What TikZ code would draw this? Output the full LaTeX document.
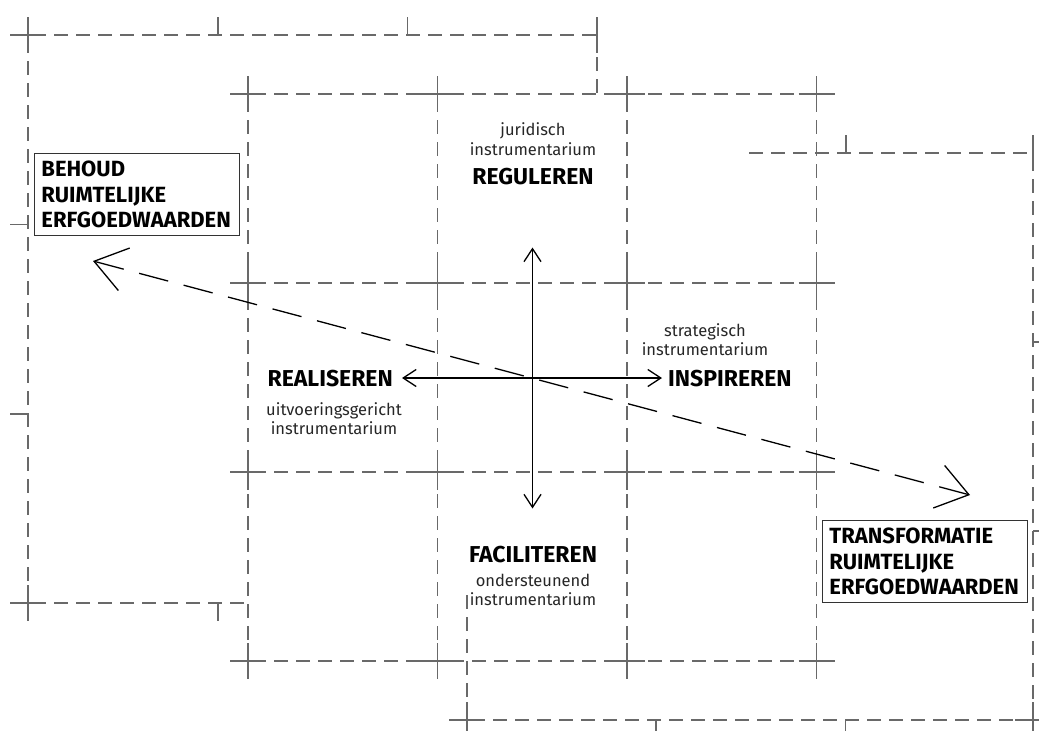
\documentclass[tikz,border=0pt]{standalone}
\usepackage{fontspec}
\setmainfont{Fira Sans}
\usetikzlibrary{arrows.meta}
\definecolor{gridc}{RGB}{105,105,105}
\tikzset{
  gridline/.style={draw=gridc, line width=1.1pt, dash pattern=on 14pt off 8pt},
  solidmark/.style={draw=gridc, line width=1.1pt},
  bigarrow/.style={line width=1.3pt, dash pattern=on 30pt off 16pt,
    {Straight Barb[length=31pt,width=44pt]}-{Straight Barb[length=31pt,width=44pt]}},
  axisarrow/.style={line width=1.3pt,
    {Straight Barb[length=13pt,width=17pt]}-{Straight Barb[length=13pt,width=17pt]}},
  smalltext/.style={font=\fontsize{16.5}{19.5}\selectfont, anchor=base, inner sep=0pt, text=black!85},
  bigtext/.style={font=\fontsize{23}{24}\selectfont\bfseries, anchor=base, inner sep=0pt},
  labelbox/.style={draw=black!80, line width=0.9pt, fill=white, anchor=north west,
    text width=191pt, align=left, inner xsep=7pt, inner ysep=0pt, minimum height=82pt,
    font=\fontsize{22}{25.5}\selectfont\bfseries}
}
\begin{document}
\begin{tikzpicture}[x=1pt,y=-1pt]
\useasboundingbox (0,0) rectangle (1039,731);
\clip (0,0) rectangle (1039,731);

% ---------- frame A (top left) ----------
\draw[gridline] (10,35) -- (597,35);
\draw[gridline] (28,17) -- (28,621);
\draw[gridline] (597,35) -- (597,94);
\draw[gridline] (10,603) -- (248,603);
\draw[solidmark] (10,35) -- (46,35) (28,17) -- (28,53);
\draw[solidmark] (10,603) -- (46,603) (28,585) -- (28,621);
\draw[solidmark] (218,35) -- (218,17) (407.5,35) -- (407.5,17) (597,17) -- (597,53);
\draw[solidmark] (28,224.5) -- (10,224.5) (28,414) -- (10,414);
\draw[solidmark] (218,603) -- (218,621);

% ---------- frame C (bottom right) ----------
\draw[gridline] (749,153) -- (1033,153);
\draw[gridline] (1033,135) -- (1033,731);
\draw[gridline] (449,720) -- (1039,720);
\draw[gridline] (467,595) -- (467,731);
\draw[solidmark] (846,153) -- (846,135) (1033,135) -- (1033,171);
\draw[solidmark] (1033,342) -- (1051,342) (1033,531) -- (1051,531);
\draw[solidmark] (656,720) -- (656,738) (845.5,720) -- (845.5,738);
\draw[solidmark] (1015,720) -- (1051,720) (1033,702) -- (1033,738);
\draw[solidmark] (449,720) -- (485,720) (467,702) -- (467,738);

% ---------- frame B (central grid) ----------
\foreach \x in {248,437.5,627,816.5} \draw[gridline] (\x,76) -- (\x,679);
\foreach \y in {94,283,472,661} \draw[gridline] (230,\y) -- (835,\y);
\foreach \x in {248,437.5,627,816.5}
  \foreach \y in {94,283,472,661}
    \draw[solidmark] (\x-18,\y) -- (\x+18,\y) (\x,\y-18) -- (\x,\y+18);

% ---------- arrows ----------
\coordinate (dA) at (93,261);
\coordinate (dB) at (970,495);
\draw[bigarrow] (dA) -- (dB);
\coordinate (aT) at (532.5,247.5);
\coordinate (aB) at (532.5,508.5);
\coordinate (aL) at (402,378);
\coordinate (aR) at (662,378);
\draw[axisarrow] (aT) -- (aB);
\draw[axisarrow] (aL) -- (aR);

% ---------- texts ----------
\node[smalltext] (jur1) at (533,135) {juridisch};
\node[smalltext] (jur2) at (533,155) {instrumentarium};
\node[bigtext] (reg) at (533,184) {REGULEREN};

\node[smalltext] (str1) at (705,336) {strategisch};
\node[smalltext] (str2) at (705,355.5) {instrumentarium};
\node[bigtext, anchor=base west] (insp) at (668,386) {INSPIREREN};

\node[bigtext, anchor=base east] (real) at (393,386) {REALISEREN};
\node[smalltext] (uit1) at (334,415) {uitvoeringsgericht};
\node[smalltext] (uit2) at (334,434) {instrumentarium};

\node[bigtext] (fac) at (533,562) {FACILITEREN};
\node[smalltext] (ond1) at (533,586.5) {ondersteunend};
\node[smalltext] (ond2) at (533,605.5) {instrumentarium};

\node[labelbox] (behoud) at (34,153) {BEHOUD\\RUIMTELIJKE\\ERFGOEDWAARDEN};
\node[labelbox] (transf) at (822,520) {TRANSFORMATIE\\RUIMTELIJKE\\ERFGOEDWAARDEN};
\end{tikzpicture}
\end{document}
